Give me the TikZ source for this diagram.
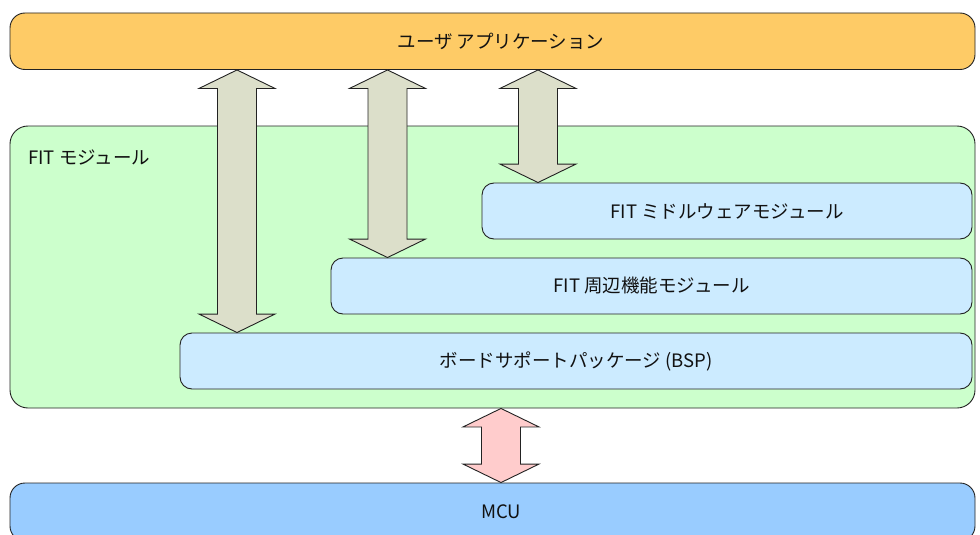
\documentclass[tikz,border=0pt]{standalone}
\usepackage{fontspec}
\setmainfont{Noto Sans CJK JP}
\usetikzlibrary{calc}
\definecolor{cOrange}{HTML}{FECB66}
\definecolor{cGreen}{HTML}{CCFFCC}
\definecolor{cLight}{HTML}{CCEBFF}
\definecolor{cMcu}{HTML}{99CCFF}
\definecolor{cArrow}{HTML}{DCDFCA}
\definecolor{cPink}{HTML}{FFCCCC}
\definecolor{cLine}{HTML}{222222}
\definecolor{cText}{HTML}{111111}
\newcommand\blockarrow[3]{%
  \draw[#1] let \p1=#2, \p2=#3 in
    (\x1,\y1) -- (\x1+38pt,\y1-18.5pt) -- (\x1+19.5pt,\y1-18.5pt) --
    (\x1+19.5pt,\y2+18.5pt) -- (\x1+38pt,\y2+18.5pt) -- (\x1,\y2) --
    (\x1-38pt,\y2+18.5pt) -- (\x1-19.5pt,\y2+18.5pt) --
    (\x1-19.5pt,\y1-18.5pt) -- (\x1-38pt,\y1-18.5pt) -- cycle;}
\begin{document}
\begin{tikzpicture}[x=1pt,y=-1pt,
  txt/.style={font=\fontsize{18.5}{22}\selectfont, text=cText},
  box/.style={draw=cLine, line width=0.9pt, rectangle, inner sep=0pt, txt},
  bar/.style={box, rounded corners=15pt, minimum width=965pt},
  inner/.style={box, fill=cLight, rounded corners=12pt, minimum height=56pt},
  arrowshape/.style={draw=cLine, line width=0.9pt, line join=miter, fill=cArrow},
  pinkshape/.style={arrowshape, fill=cPink}]
\useasboundingbox (0,0) rectangle (980,535);
\clip (0,0) rectangle (980,535);
\node[bar, fill=cOrange, minimum height=56.5pt,
  label={[xshift=8.5pt, txt]center:ユーザ アプリケーション}] (user) at (492.5,41.25) {};
\node[box, fill=cGreen, rounded corners=18pt, minimum width=965pt, minimum height=282pt] (fit) at (492.5,267) {};
\node[anchor=west, txt, inner sep=0pt] (fitlabel) at (28,157) {FIT モジュール};
\node[inner, minimum width=490pt] (mw) at (727,211) {FIT ミドルウェアモジュール};
\node[inner, minimum width=641pt] (per) at (651.5,286) {FIT 周辺機能モジュール};
\node[inner, minimum width=792pt] (bsp) at (576,361) {ボードサポートパッケージ (BSP)};
\node[bar, fill=cMcu, minimum height=58pt,
  label={[xshift=8.5pt, txt]center:MCU}] (mcu) at (492.5,512) {};
\coordinate (xa) at (237,0);
\coordinate (xb) at (387.5,0);
\coordinate (xc) at (538,0);
\coordinate (xd) at (501,0);
\blockarrow{arrowshape}{(user.south -| xa)}{(bsp.north -| xa)}
\blockarrow{arrowshape}{(user.south -| xb)}{(per.north -| xb)}
\blockarrow{arrowshape}{(user.south -| xc)}{(mw.north -| xc)}
\blockarrow{pinkshape}{(fit.south -| xd)}{(mcu.north -| xd)}
\end{tikzpicture}
\end{document}
